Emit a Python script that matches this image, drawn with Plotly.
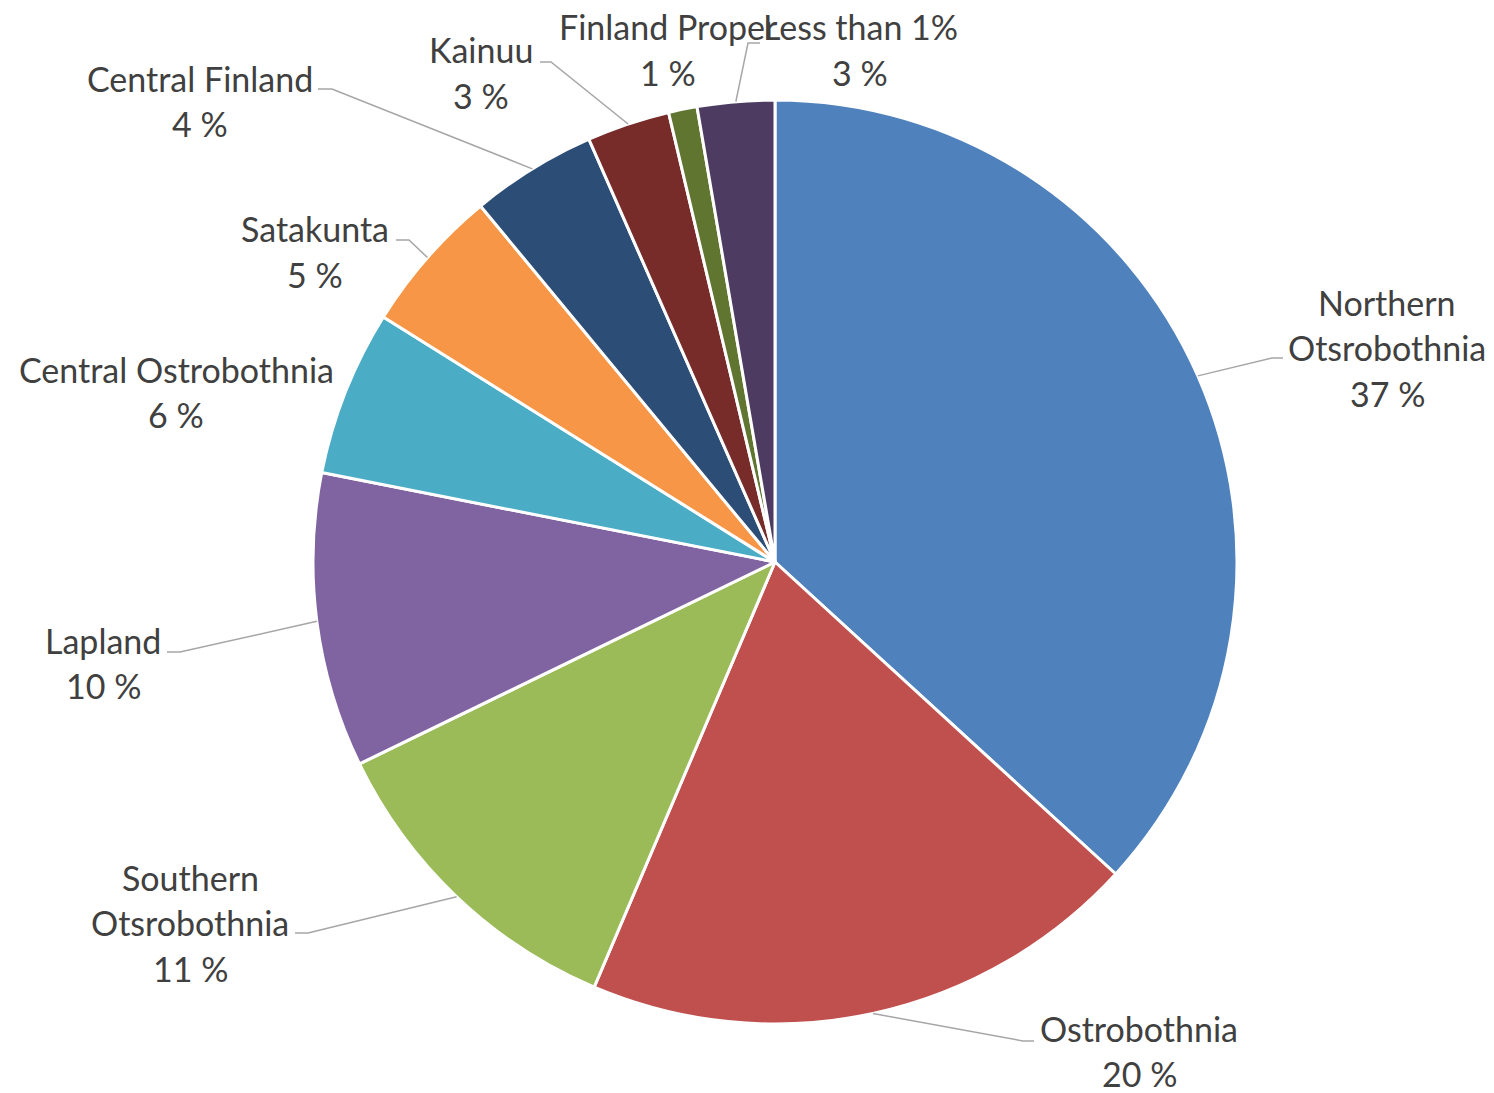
import math
import plotly.graph_objects as go

# ---------------- data ----------------
categories = ["Northern Otsrobothnia", "Ostrobothnia", "Southern Otsrobothnia", "Lapland",
              "Central Ostrobothnia", "Satakunta", "Central Finland", "Kainuu",
              "Finland Proper", "Less than 1%"]
shares = [36.8, 19.6, 11.4, 10.3, 5.8, 5.1, 4.4, 2.9, 1.0, 2.7]
colors = ["#4F81BD", "#C0504D", "#9BBB59", "#8064A2", "#4BACC6", "#F79646",
          "#2C4D75", "#772C2A", "#5F7530", "#4D3B62"]

# ---------------- layout constants ----------------
W, H = 1494, 1093
CX, CY, R = 775, 562, 462          # pie centre / radius in pixels
FONT = "Lato, Calibri, 'Open Sans', sans-serif"
FSIZE = 34
TXT = "#404040"
LEAD = "#A6A6A6"
LINE_H = 45.5

# label line wrapping
wrap = {"Northern Otsrobothnia": ["Northern", "Otsrobothnia"],
        "Southern Otsrobothnia": ["Southern", "Otsrobothnia"]}
# label centre x, first line centre y (pixels)
label_pos = [(1387, 302), (1139, 1028), (190, 877), (103, 640), (176, 369),
             (315, 229), (200, 78), (481, 50), (668, 27), (860, 27)]
# leader line elbow and end points (pixels); None = no leader
leaders = [[(1272, 358), (1283, 358)], [(1023, 1041), (1034, 1041)],
           [(308, 933), (295, 933)], [(180, 652), (167, 652)], None,
           [(409, 240), (396, 240)], [(332, 89), (318, 89)],
           [(551, 62), (540, 62)], None, [(748, 43), (760, 43)]]


def px(x):
    return x / W


def py(y):
    return 1 - y / H


fig = go.Figure(go.Pie(
    labels=categories, values=shares, sort=False, direction="clockwise", rotation=0,
    marker=dict(colors=colors, line=dict(color="white", width=3)),
    textinfo="none", showlegend=False,
    domain=dict(x=[px(CX - R), px(CX + R)], y=[py(CY + R), py(CY - R)]),
))

total = sum(shares)
annotations = []
shapes = []
cum = 0.0
for i, (name, v) in enumerate(zip(categories, shares)):
    mid = (cum + v / 2) / total * 2 * math.pi
    cum += v
    lines = wrap.get(name, [name]) + [f"{round(v / total * 100)} %"]
    lx, ly = label_pos[i]
    for k, t in enumerate(lines):
        annotations.append(dict(x=px(lx), y=py(ly + k * LINE_H), xref="paper", yref="paper",
                                text=t, showarrow=False, xanchor="center", yanchor="middle",
                                font=dict(family=FONT, size=FSIZE, color=TXT)))
    if leaders[i]:
        sx = CX + R * math.sin(mid)
        sy = CY - R * math.cos(mid)
        pts = [(sx, sy)] + leaders[i]
        path = "M " + " L ".join(f"{px(a):.5f},{py(b):.5f}" for a, b in pts)
        shapes.append(dict(type="path", path=path, xref="paper", yref="paper",
                           line=dict(color=LEAD, width=1.5)))

fig.update_layout(width=W, height=H, margin=dict(l=0, r=0, t=0, b=0),
                  paper_bgcolor="white", plot_bgcolor="white",
                  annotations=annotations, shapes=shapes)
fig.write_html("out.html", config={"displayModeBar": False},
               post_script="document.body.style.margin='0';document.body.style.overflow='hidden';")
